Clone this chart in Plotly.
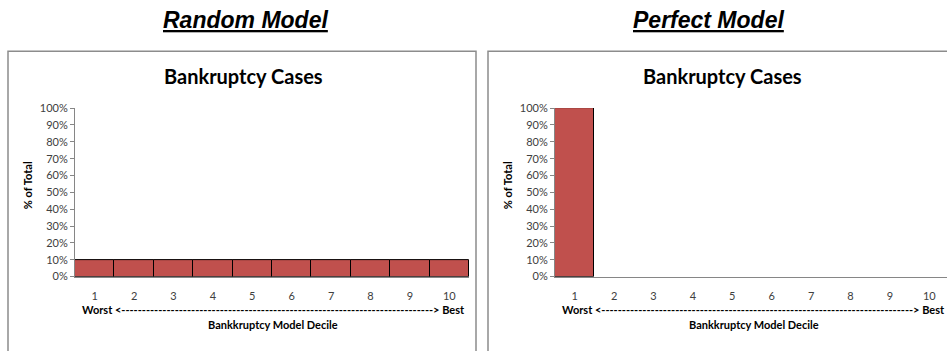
import plotly.graph_objects as go

deciles = [1, 2, 3, 4, 5, 6, 7, 8, 9, 10]
random_model = [0.10, 0.10, 0.10, 0.10, 0.10, 0.10, 0.10, 0.10, 0.10, 0.10]
perfect_model = [1.00, 0, 0, 0, 0, 0, 0, 0, 0, 0]
y_ticks = [0, 0.1, 0.2, 0.3, 0.4, 0.5, 0.6, 0.7, 0.8, 0.9, 1.0]
panel_titles = ["Random Model", "Perfect Model"]
chart_title = "Bankruptcy Cases"
y_title = "% of Total"
x_title = "Bankkruptcy Model Decile"
direction_label = "Worst <" + "-" * 76 + "> Best"

W, H = 947, 351
BAR_COLOR = "#C0504D"
AX_COLOR = "#868686"
TXT = "#404040"

def px(x):
    return x / W

def py(y):
    return (H - y) / H

def bar_outline(vals):
    return [1 if v > 0 else 0 for v in vals]

fig = go.Figure()
fig.add_trace(go.Bar(x=deciles, y=random_model, width=1,
                     marker=dict(color=BAR_COLOR, line=dict(color="black", width=bar_outline(random_model))),
                     xaxis="x", yaxis="y", showlegend=False))
fig.add_trace(go.Bar(x=deciles, y=perfect_model, width=1,
                     marker=dict(color=BAR_COLOR, line=dict(color="black", width=bar_outline(perfect_model))),
                     xaxis="x2", yaxis="y2", showlegend=False))

cat_w = (469 - 75) / 10.0
left_x0, left_x1 = 75, 469
right_x0 = 555
right_x1 = W
right_range_hi = 0.5 + (right_x1 - right_x0) / cat_w

ydom = [py(280), py(105)]
common_x = dict(showline=True, linecolor=AX_COLOR, linewidth=1, ticks="", showgrid=False, zeroline=False,
                tickmode="array", tickvals=deciles, ticktext=[str(d) for d in deciles],
                tickfont=dict(family="Lato", size=11, color=TXT), ticklabelstandoff=9)
common_y = dict(showline=True, linecolor=AX_COLOR, linewidth=1, ticks="outside", ticklen=4, tickcolor=AX_COLOR,
                showgrid=False, zeroline=False, range=[0, 1], tickmode="array", tickvals=y_ticks,
                ticktext=[f"{int(round(v*100))}%" for v in y_ticks],
                tickfont=dict(family="Lato", size=11, color=TXT), domain=ydom)

fig.update_layout(
    width=W, height=H, margin=dict(l=0, r=0, t=0, b=0),
    paper_bgcolor="white", plot_bgcolor="white", bargap=0,
    xaxis=dict(common_x, domain=[px(left_x0), px(left_x1)], range=[0.5, 10.5], anchor="y"),
    yaxis=dict(common_y, anchor="x"),
    xaxis2=dict(common_x, domain=[px(right_x0), px(right_x1)], range=[0.5, right_range_hi], anchor="y2"),
    yaxis2=dict(common_y, anchor="x2"),
)

shapes = [
    dict(type="rect", xref="paper", yref="paper", x0=px(8), x1=px(476), y0=-0.1, y1=py(46),
         line=dict(color="#8C8C8C", width=1.5), fillcolor="rgba(0,0,0,0)", layer="below"),
    dict(type="rect", xref="paper", yref="paper", x0=px(488), x1=1.1, y0=-0.1, y1=py(46),
         line=dict(color="#8C8C8C", width=1.5), fillcolor="rgba(0,0,0,0)", layer="below"),
]
fig.update_layout(shapes=shapes)

anns = []
panels = [
    dict(title_x=245, chart_x=243, ytitle_x=27, xtitle_x=273, dir_x=273),
    dict(title_x=708, chart_x=722, ytitle_x=507, xtitle_x=754, dir_x=753),
]
for i, p in enumerate(panels):
    anns.append(dict(text=f"<b><i><u>{panel_titles[i]}</u></i></b>", x=px(p["title_x"]), y=py(13), xref="paper", yref="paper",
                     showarrow=False, font=dict(family="Liberation Sans", size=23, color="black"), xanchor="center", yanchor="middle"))
    anns.append(dict(text=f"<b>{chart_title}</b>", x=px(p["chart_x"]), y=py(72), xref="paper", yref="paper",
                     showarrow=False, font=dict(family="Lato", size=20, color="black"), xanchor="center", yanchor="middle"))
    anns.append(dict(text=f"<b>{y_title}</b>", x=px(p["ytitle_x"]), y=py(185), xref="paper", yref="paper", textangle=-90,
                     showarrow=False, font=dict(family="Lato", size=11, color="black"), xanchor="center", yanchor="middle"))
    anns.append(dict(text=f"<b>{direction_label}</b>", x=px(p["dir_x"]), y=py(314), xref="paper", yref="paper",
                     showarrow=False, font=dict(family="Lato", size=11, color="black"), xanchor="center", yanchor="middle"))
    anns.append(dict(text=f"<b>{x_title}</b>", x=px(p["xtitle_x"]), y=py(330), xref="paper", yref="paper",
                     showarrow=False, font=dict(family="Lato", size=11, color="black"), xanchor="center", yanchor="middle"))
fig.update_layout(annotations=anns)

fig.write_html("out.html")
